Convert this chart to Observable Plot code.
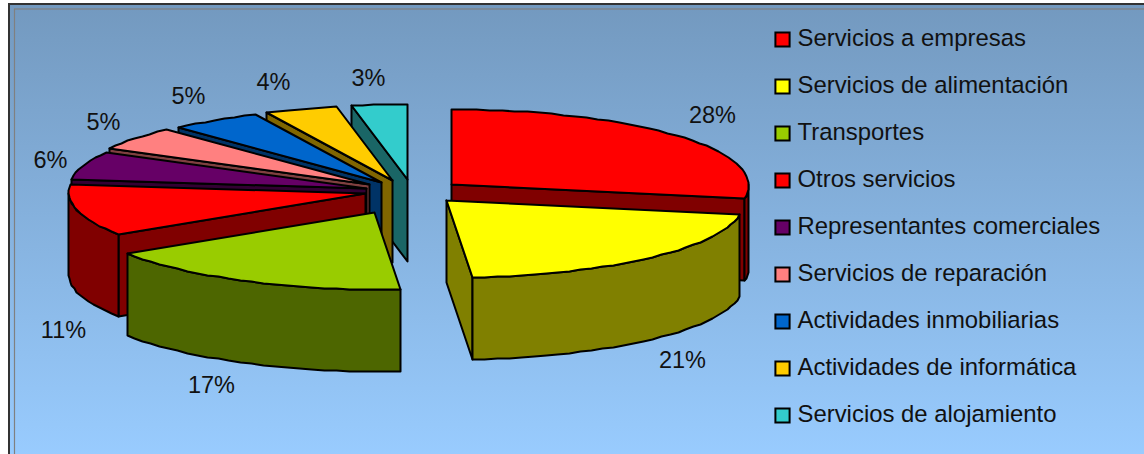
<!DOCTYPE html>
<html lang="es">
<head>
<meta charset="utf-8">
<script src="https://cdn.jsdelivr.net/npm/d3@7"></script>
<script src="https://cdn.jsdelivr.net/npm/@observablehq/plot@0.6"></script>
<style>
  html, body { margin: 0; padding: 0; background: #fff; }
  svg { display: block; }
</style>
</head>
<body>
<div id="chart"></div>
<script>
// Shares of each activity, in percent, clockwise from twelve o'clock.
const categories = [
  "Servicios a empresas", "Servicios de alimentación", "Transportes",
  "Otros servicios", "Representantes comerciales", "Servicios de reparación",
  "Actividades inmobiliarias", "Actividades de informática", "Servicios de alojamiento"
];
const shares = [28, 21, 17, 11, 6, 5, 5, 4, 3];

const topColors  = ["#ff0000", "#ffff00", "#99cc00", "#ff0000", "#660066", "#ff8080", "#0066cc", "#ffcc00", "#33cccc"];
const sideColors = ["#800000", "#808000", "#4d6600", "#800000", "#330033", "#804040", "#003366", "#806600", "#1a6666"];

// Exploded position of each wedge's tip on the page.
const tipX = [451, 446, 374, 365, 366, 369, 381, 392, 407];
const tipY = [184, 200, 212, 193, 188, 184, 182, 180, 179];
// Percent label offset from the wedge's mid-rim point.
const labelDx = [32, 34, -34, -14, -34, -31, -26, -27, -11];
const labelDy = [-21, 102, 104, 120, -5, -16, -24, -27, -26];

const W = 1144, H = 454;
const RX = 297, RY_BACK = 75, RY_FRONT = 77, DEPTH = 82, LEAN = 0.09, STEP = 2.5;
const rad = Math.PI / 180;

// Cumulative wedge limits in degrees.
const ends = d3.cumsum(shares).map(c => c * 3.6);
const starts = ends.map((e, i) => e - shares[i] * 3.6);

// Projects an angle on the tilted disc of wedge i; whole pixels keep the slightly stepped outline.
function rim(i, a, drop = 0) {
  const c = -Math.cos(a * rad);
  const dy = c * (c > 0 ? RY_FRONT : RY_BACK);
  return {
    x: Math.round(tipX[i] + RX * Math.sin(a * rad) + LEAN * Math.max(dy, 0)),
    y: Math.round(tipY[i] + dy) + drop
  };
}
function arc(i, a0, a1, drop = 0) {
  const n = Math.max(1, Math.ceil((a1 - a0) / STEP));
  return d3.range(n + 1).map(k => rim(i, a0 + (a1 - a0) * k / n, drop));
}
const tip = (i, drop = 0) => ({ x: tipX[i], y: tipY[i] + drop });

// Faces are stacked back to front so nearer wedges cover farther ones.
const faces = [];
function addFace(key, fill, pts) {
  [...pts, pts[0]].forEach(p => faces.push({ key, fill, x: p.x, y: p.y }));
}
function addWedge(i) {
  const a0 = starts[i], a1 = ends[i];
  // Cut face along the starting radius, when it turns toward the viewer.
  if (a0 > 225 && a0 < 360) {
    addFace(`${i}-start`, sideColors[i], [tip(i), rim(i, a0), rim(i, a0, DEPTH), tip(i, DEPTH)]);
  }
  // Cut face along the closing radius.
  if (a1 > 100 && a1 < 180) {
    addFace(`${i}-end`, sideColors[i], [tip(i), rim(i, a1), rim(i, a1, DEPTH), tip(i, DEPTH)]);
  }
  // Outer wall for the part of the rim on the near half.
  const w0 = Math.max(a0, 90), w1 = Math.min(a1, 270);
  if (w1 > w0) {
    addFace(`${i}-wall`, sideColors[i], [...arc(i, w0, w1), ...arc(i, w0, w1, DEPTH).reverse()]);
  }
  addFace(`${i}-top`, topColors[i], [tip(i), ...arc(i, a0, a1)]);
}
[8, 7, 6, 5, 4, 3, 2, 0, 1].forEach(addWedge);

const pctLabels = shares.map((s, i) => {
  const p = rim(i, (starts[i] + ends[i]) / 2);
  return { text: `${s}%`, x: p.x + labelDx[i], y: p.y + labelDy[i] };
});
const legendRows = categories.map((name, i) => ({ name, fill: topColors[i], row: i }));
const legendY = d => 39 + d.row * 47;

const defs = () => {
  const d = d3.create("svg:defs");
  const g = d.append("linearGradient").attr("id", "panel").attr("x1", 0).attr("x2", 0).attr("y1", 0).attr("y2", 1);
  g.append("stop").attr("offset", "0%").attr("stop-color", "#7399bf");
  g.append("stop").attr("offset", "100%").attr("stop-color", "#99ccff");
  return d.node();
};

const font = "'Liberation Sans', Arial, sans-serif";

const chart = Plot.plot({
  width: W, height: H,
  margin: 0,
  x: { domain: [0, W], range: [0, W], axis: null },
  y: { domain: [0, H], range: [0, H], axis: null },
  color: { type: "identity" },
  style: { background: "none", fontFamily: font },
  marks: [
    defs,
    // Chart area with its double border.
    Plot.rect([{ x1: 9, x2: 1146, y1: 4, y2: 460 }], { x1: "x1", x2: "x2", y1: "y1", y2: "y2", fill: "url(#panel)", stroke: "#333", strokeWidth: 2 }),
    Plot.rect([{ x1: 14.5, x2: 1146, y1: 9, y2: 460 }], { x1: "x1", x2: "x2", y1: "y1", y2: "y2", fill: "none", stroke: "#808080", strokeWidth: 1.2 }),
    // Pie faces.
    Plot.line(faces, { x: "x", y: "y", z: "key", fill: "fill", stroke: "black", strokeWidth: 2, strokeLinejoin: "round" }),
    // Percent labels.
    Plot.text(pctLabels, { x: "x", y: "y", text: "text", fontSize: 23.5, fill: "#111", textAnchor: "middle", lineAnchor: "middle" }),
    // Legend.
    Plot.dot(legendRows, { x: () => 782, y: legendY, symbol: "square", r: 8, fill: "fill", stroke: "black", strokeWidth: 2 }),
    Plot.text(legendRows, { x: () => 797, y: d => legendY(d) - 1.5, text: "name", fontSize: 23.9, fill: "#111", textAnchor: "start", lineAnchor: "middle" })
  ]
});
document.getElementById("chart").appendChild(chart);
</script>
</body>
</html>
